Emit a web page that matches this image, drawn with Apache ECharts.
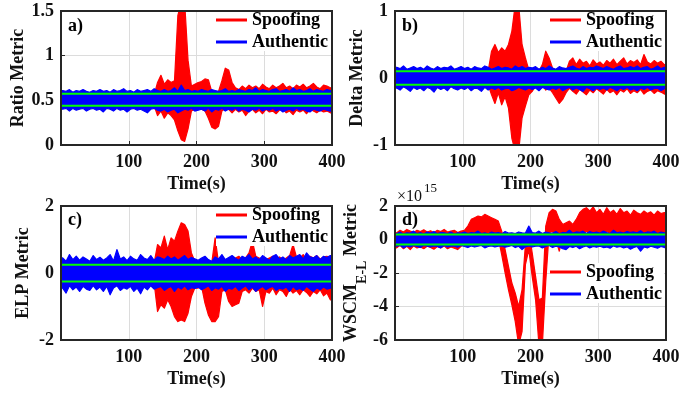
<!DOCTYPE html>
<html><head><meta charset="utf-8">
<script src="https://cdn.jsdelivr.net/npm/echarts@6/dist/echarts.min.js"></script>
<style>html,body{margin:0;padding:0;background:#fff}#c{width:694px;height:395px}</style>
</head><body><div id="c"></div>
<script>
// ---- time windows (s): each sample = one 5 s window with its upper / lower excursion
const timeSec = [
 2.5,7.5,12.5,17.5,22.5,27.5,32.5,37.5,42.5,47.5,
 52.5,57.5,62.5,67.5,72.5,77.5,82.5,87.5,92.5,97.5,
 102.5,107.5,112.5,117.5,122.5,127.5,132.5,137.5,142.5,147.5,
 152.5,157.5,162.5,167.5,172.5,177.5,182.5,187.5,192.5,197.5,
 202.5,207.5,212.5,217.5,222.5,227.5,232.5,237.5,242.5,247.5,
 252.5,257.5,262.5,267.5,272.5,277.5,282.5,287.5,292.5,297.5,
 302.5,307.5,312.5,317.5,322.5,327.5,332.5,337.5,342.5,347.5,
 352.5,357.5,362.5,367.5,372.5,377.5,382.5,387.5,392.5,397.5];
const xTicks = [100,200,300,400];

// ---- a) Ratio metric
const ratioSpoofHi = [
 0.55,0.55,0.55,0.55,0.55,0.55,0.55,0.55,0.55,0.55,
 0.55,0.55,0.55,0.55,0.55,0.55,0.55,0.55,0.55,0.55,
 0.55,0.55,0.55,0.55,0.55,0.55,0.55,0.56,0.70,0.78,
 0.68,0.73,0.70,0.72,1.45,1.60,1.60,0.95,0.66,0.68,
 0.70,0.71,0.74,0.73,0.60,0.58,0.60,0.72,0.86,0.84,
 0.70,0.64,0.62,0.66,0.63,0.67,0.64,0.66,0.63,0.68,
 0.65,0.63,0.67,0.64,0.66,0.69,0.64,0.66,0.63,0.67,
 0.65,0.68,0.64,0.66,0.69,0.65,0.63,0.67,0.66,0.64];
const ratioSpoofLo = [
 0.45,0.45,0.45,0.45,0.45,0.45,0.45,0.45,0.45,0.45,
 0.45,0.45,0.45,0.45,0.45,0.45,0.45,0.45,0.45,0.45,
 0.45,0.45,0.45,0.45,0.45,0.45,0.45,0.44,0.33,0.38,
 0.30,0.36,0.33,0.28,0.16,0.06,0.04,0.18,0.38,0.40,
 0.42,0.40,0.38,0.30,0.20,0.18,0.21,0.38,0.41,0.40,
 0.36,0.40,0.37,0.39,0.33,0.38,0.40,0.36,0.39,0.35,
 0.40,0.37,0.38,0.35,0.39,0.40,0.36,0.38,0.34,0.39,
 0.37,0.39,0.35,0.40,0.38,0.36,0.39,0.37,0.38,0.36];
const ratioAuthHi = [
 0.61,0.60,0.62,0.59,0.61,0.60,0.62,0.60,0.59,0.61,
 0.60,0.62,0.60,0.61,0.59,0.62,0.60,0.61,0.63,0.60,
 0.61,0.59,0.62,0.60,0.61,0.62,0.60,0.63,0.61,0.60,
 0.62,0.60,0.61,0.64,0.60,0.67,0.61,0.62,0.60,0.61,
 0.60,0.62,0.61,0.60,0.62,0.61,0.60,0.61,0.63,0.60,
 0.61,0.60,0.62,0.61,0.60,0.62,0.61,0.64,0.60,0.62,
 0.61,0.60,0.62,0.63,0.60,0.61,0.62,0.60,0.64,0.61,
 0.62,0.60,0.61,0.63,0.60,0.62,0.61,0.60,0.62,0.61];
const ratioAuthLo = [
 0.40,0.41,0.38,0.41,0.39,0.40,0.41,0.38,0.40,0.41,
 0.39,0.40,0.37,0.41,0.40,0.38,0.41,0.39,0.40,0.37,
 0.40,0.41,0.39,0.40,0.38,0.36,0.40,0.41,0.39,0.38,
 0.40,0.37,0.39,0.40,0.36,0.38,0.40,0.39,0.41,0.38,
 0.39,0.40,0.38,0.41,0.37,0.40,0.39,0.41,0.38,0.40,
 0.39,0.41,0.38,0.40,0.39,0.37,0.40,0.39,0.41,0.38,
 0.40,0.39,0.41,0.38,0.40,0.37,0.39,0.40,0.38,0.41,
 0.39,0.40,0.38,0.37,0.40,0.39,0.38,0.40,0.39,0.38];
const ratioThresh = [0.575, 0.44];

// ---- b) Delta metric
const deltaSpoofHi = [
 0.08,0.08,0.08,0.08,0.08,0.08,0.08,0.08,0.08,0.08,
 0.08,0.08,0.08,0.08,0.08,0.08,0.08,0.08,0.08,0.08,
 0.08,0.08,0.08,0.08,0.08,0.08,0.08,0.10,0.40,0.50,
 0.38,0.45,0.40,0.50,0.70,1.10,1.10,0.50,0.30,0.12,
 0.10,0.12,0.10,0.20,0.40,0.30,0.15,0.10,0.08,0.12,
 0.10,0.25,0.30,0.20,0.28,0.22,0.25,0.18,0.27,0.21,
 0.24,0.19,0.26,0.22,0.28,0.20,0.25,0.30,0.21,0.26,
 0.23,0.27,0.20,0.35,0.24,0.21,0.26,0.22,0.25,0.20];
const deltaSpoofLo = [
 -0.08,-0.08,-0.08,-0.08,-0.08,-0.08,-0.08,-0.08,-0.08,-0.08,
 -0.08,-0.08,-0.08,-0.08,-0.08,-0.08,-0.08,-0.08,-0.08,-0.08,
 -0.08,-0.08,-0.08,-0.08,-0.08,-0.08,-0.08,-0.10,-0.25,-0.38,
 -0.22,-0.40,-0.28,-0.45,-0.90,-1.10,-1.10,-0.60,-0.42,-0.25,
 -0.20,-0.12,-0.15,-0.10,-0.18,-0.15,-0.22,-0.30,-0.38,-0.32,
 -0.22,-0.15,-0.20,-0.24,-0.17,-0.21,-0.25,-0.18,-0.22,-0.16,
 -0.20,-0.24,-0.17,-0.22,-0.19,-0.25,-0.18,-0.21,-0.16,-0.23,
 -0.19,-0.22,-0.17,-0.24,-0.20,-0.18,-0.23,-0.19,-0.21,-0.24];
const deltaAuthHi = [
 0.16,0.14,0.18,0.13,0.15,0.17,0.14,0.16,0.13,0.18,
 0.15,0.13,0.17,0.14,0.16,0.15,0.18,0.13,0.15,0.17,
 0.14,0.16,0.13,0.17,0.15,0.14,0.18,0.16,0.13,0.15,
 0.17,0.14,0.16,0.15,0.13,0.18,0.15,0.17,0.14,0.16,
 0.15,0.17,0.13,0.16,0.14,0.18,0.15,0.13,0.17,0.15,
 0.14,0.16,0.18,0.15,0.13,0.17,0.14,0.16,0.15,0.18,
 0.16,0.14,0.17,0.15,0.13,0.16,0.18,0.14,0.15,0.17,
 0.15,0.18,0.14,0.16,0.17,0.13,0.15,0.18,0.14,0.16];
const deltaAuthLo = [
 -0.15,-0.18,-0.13,-0.16,-0.20,-0.14,-0.17,-0.15,-0.19,-0.14,
 -0.16,-0.21,-0.14,-0.17,-0.15,-0.19,-0.13,-0.16,-0.18,-0.15,
 -0.17,-0.14,-0.19,-0.15,-0.16,-0.20,-0.14,-0.18,-0.15,-0.17,
 -0.14,-0.18,-0.16,-0.15,-0.19,-0.17,-0.14,-0.16,-0.18,-0.15,
 -0.17,-0.15,-0.19,-0.14,-0.16,-0.18,-0.15,-0.17,-0.14,-0.19,
 -0.16,-0.14,-0.18,-0.15,-0.17,-0.20,-0.14,-0.16,-0.19,-0.15,
 -0.17,-0.15,-0.18,-0.14,-0.16,-0.19,-0.15,-0.17,-0.14,-0.18,
 -0.16,-0.19,-0.15,-0.17,-0.14,-0.18,-0.16,-0.15,-0.19,-0.16];
const deltaThresh = [0.1, -0.1];

// ---- c) ELP metric
const elpSpoofHi = [
 0.20,0.20,0.20,0.20,0.20,0.20,0.20,0.20,0.20,0.20,
 0.20,0.20,0.20,0.20,0.20,0.20,0.20,0.20,0.20,0.20,
 0.20,0.20,0.20,0.20,0.20,0.20,0.20,0.30,0.85,0.75,
 1.10,0.70,1.05,0.95,1.25,1.50,1.45,1.25,0.60,0.35,
 0.30,0.25,0.30,0.35,0.30,1.05,0.30,0.25,0.30,0.35,
 0.40,0.45,0.50,0.40,0.45,0.60,0.95,0.50,0.45,0.40,
 0.40,0.45,0.50,0.42,0.48,0.40,0.45,0.52,0.85,0.48,
 0.45,0.55,0.40,0.50,0.45,0.52,0.42,0.48,0.50,0.45];
const elpSpoofLo = [
 -0.20,-0.20,-0.20,-0.20,-0.20,-0.20,-0.20,-0.20,-0.20,-0.20,
 -0.20,-0.20,-0.20,-0.20,-0.20,-0.20,-0.20,-0.20,-0.20,-0.20,
 -0.20,-0.20,-0.20,-0.20,-0.20,-0.20,-0.20,-0.30,-1.15,-0.95,
 -1.05,-0.80,-1.00,-1.30,-1.45,-1.40,-1.45,-1.20,-0.70,-0.45,
 -0.45,-0.40,-0.90,-1.25,-1.45,-1.45,-1.30,-0.55,-0.50,-0.85,
 -1.00,-0.95,-0.90,-0.55,-0.50,-0.60,-0.45,-0.55,-0.50,-1.00,
 -0.55,-0.60,-0.45,-0.65,-0.50,-0.55,-0.70,-0.48,-0.60,-0.52,
 -0.65,-0.50,-0.58,-0.70,-0.55,-0.62,-0.50,-0.68,-0.60,-0.80];
const elpAuthHi = [
 0.45,0.35,0.55,0.40,0.50,0.38,0.48,0.42,0.35,0.52,
 0.40,0.47,0.38,0.45,0.55,0.36,0.70,0.42,0.48,0.37,
 0.50,0.42,0.38,0.55,0.45,0.40,0.52,0.38,0.48,0.45,
 0.40,0.50,0.42,0.48,0.38,0.45,0.52,0.40,0.46,0.42,
 0.38,0.45,0.50,0.40,0.35,0.48,0.42,0.55,0.40,0.46,
 0.52,0.44,0.38,0.50,0.45,0.55,0.42,0.48,0.40,0.52,
 0.45,0.38,0.50,0.55,0.42,0.48,0.40,0.52,0.45,0.50,
 0.55,0.42,0.60,0.48,0.45,0.52,0.40,0.50,0.46,0.52];
const elpAuthLo = [
 -0.45,-0.60,-0.38,-0.50,-0.42,-0.55,-0.40,-0.48,-0.52,-0.38,
 -0.50,-0.42,-0.55,-0.40,-0.65,-0.45,-0.38,-0.52,-0.44,-0.48,
 -0.40,-0.55,-0.45,-0.62,-0.42,-0.50,-0.38,-0.48,-0.44,-0.40,
 -0.52,-0.45,-0.40,-0.55,-0.42,-0.48,-0.38,-0.50,-0.44,-0.46,
 -0.42,-0.50,-0.45,-0.38,-0.52,-0.44,-0.48,-0.40,-0.55,-0.45,
 -0.48,-0.40,-0.52,-0.45,-0.38,-0.50,-0.42,-0.55,-0.46,-0.40,
 -0.50,-0.44,-0.40,-0.52,-0.45,-0.48,-0.42,-0.55,-0.40,-0.50,
 -0.46,-0.52,-0.40,-0.48,-0.55,-0.44,-0.50,-0.42,-0.48,-0.45];
const elpThresh = [0.25, -0.25];

// ---- d) WSCM E-L metric (units of 1e15)
const wscmSpoofHi = [
 0.40,0.55,0.45,0.60,0.50,0.42,0.55,0.48,0.58,0.45,
 0.52,0.40,0.55,0.48,0.60,0.45,0.50,0.55,0.42,0.50,
 0.55,0.80,1.20,1.30,1.40,1.35,1.50,1.40,1.30,1.20,
 1.10,0.50,-0.60,-1.60,-2.60,-3.20,-4.00,-3.00,-0.30,0.50,
 -0.80,-2.20,-3.60,-3.50,0.80,1.60,1.80,1.70,1.20,0.90,
 1.00,1.10,0.90,1.20,1.60,1.80,1.90,1.70,1.95,1.60,
 1.80,1.50,1.90,1.60,1.75,1.50,1.85,1.60,1.70,1.45,
 1.75,1.60,1.50,1.70,1.55,1.65,1.45,1.70,1.55,1.60];
const wscmSpoofLo = [
 -0.50,-0.35,-0.55,-0.40,-0.60,-0.38,-0.50,-0.45,-0.55,-0.40,
 -0.48,-0.58,-0.42,-0.50,-0.38,-0.55,-0.45,-0.52,-0.60,-0.40,
 -0.30,0.30,0.35,0.30,0.40,0.35,0.30,0.40,0.35,0.30,
 0.10,-0.90,-2.00,-3.00,-3.90,-4.90,-6.30,-5.50,-1.50,-0.60,
 -2.20,-3.60,-6.30,-6.30,-2.50,0.40,0.50,0.00,-0.70,0.20,
 0.30,0.20,0.40,0.30,0.40,0.30,0.50,0.30,0.40,0.30,
 0.40,0.30,0.50,0.35,0.40,0.30,0.45,0.35,0.40,0.30,
 0.45,0.35,0.40,0.30,0.50,0.35,0.40,0.30,0.45,0.35];
const wscmAuthHi = [
 0.35,0.45,0.32,0.40,0.38,0.50,0.35,0.42,0.33,0.45,
 0.38,0.48,0.35,0.42,0.40,0.36,0.45,0.33,0.40,0.38,
 0.45,0.35,0.42,0.38,0.50,0.36,0.40,0.34,0.45,0.38,
 0.42,0.35,0.48,0.38,0.40,0.36,0.45,0.40,0.38,0.80,
 0.42,0.38,0.50,0.36,0.45,0.40,0.38,0.48,0.35,0.42,
 0.40,0.55,0.38,0.45,0.42,0.50,0.36,0.48,0.40,0.45,
 0.38,0.50,0.42,0.36,0.55,0.40,0.45,0.38,0.48,0.42,
 0.45,0.40,0.52,0.38,0.45,0.42,0.50,0.36,0.44,0.40];
const wscmAuthLo = [
 -0.40,-0.35,-0.50,-0.38,-0.45,-0.36,-0.42,-0.48,-0.35,-0.40,
 -0.45,-0.38,-0.42,-0.50,-0.36,-0.44,-0.40,-0.38,-0.46,-0.35,
 -0.42,-0.48,-0.38,-0.45,-0.40,-0.36,-0.50,-0.42,-0.38,-0.45,
 -0.40,-0.38,-0.46,-0.42,-0.36,-0.48,-0.40,-0.60,-0.44,-0.38,
 -0.45,-0.40,-0.38,-0.50,-0.42,-0.36,-0.48,-0.40,-0.45,-0.55,
 -0.60,-0.42,-0.48,-0.40,-0.55,-0.45,-0.38,-0.50,-0.42,-0.46,
 -0.40,-0.48,-0.45,-0.52,-0.38,-0.46,-0.42,-0.50,-0.44,-0.58,
 -0.48,-0.42,-0.70,-0.45,-0.50,-0.40,-0.46,-0.52,-0.42,-0.48];
const wscmThresh = [0.3, -0.3];

// ---------------------------------------------------------------
const FONT = '"Liberation Serif", "Times New Roman", serif';
const TXT = '#111';
const panels = [
  {left:61,  top:11,  yMin:0,  yMax:1.5, yInt:0.5, yName:'Ratio Metric', nameGap:29, tag:'a)',
   sHi:ratioSpoofHi, sLo:ratioSpoofLo, aHi:ratioAuthHi, aLo:ratioAuthLo, thr:ratioThresh, legTop:11},
  {left:395, top:11,  yMin:-1, yMax:1,   yInt:1,   yName:'Delta Metric', nameGap:29, tag:'b)',
   sHi:deltaSpoofHi, sLo:deltaSpoofLo, aHi:deltaAuthHi, aLo:deltaAuthLo, thr:deltaThresh, legTop:11},
  {left:61,  top:206, yMin:-2, yMax:2,   yInt:2,   yName:'ELP Metric', nameGap:29, tag:'c)',
   sHi:elpSpoofHi, sLo:elpSpoofLo, aHi:elpAuthHi, aLo:elpAuthLo, thr:elpThresh, legTop:206},
  {left:395, top:206, yMin:-6, yMax:2,   yInt:2,   yName:'{m|WSCM}{s|E-L}{m| Metric}', nameGap:22, tag:'d)',
   sHi:wscmSpoofHi, sLo:wscmSpoofLo, aHi:wscmAuthHi, aLo:wscmAuthLo, thr:wscmThresh, legTop:263}
];
const W = 271, H = 134;
const xMin = 0, xMax = 400;

// band of a noisy signal: polygon through the upper excursions, back through the lower ones
function bandSeries(name, color, i, hi, lo) {
  return {
    name, type: 'custom', xAxisIndex: i, yAxisIndex: i, clip: true, silent: true, z: 2,
    itemStyle: {color},
    encode: {x: 0, y: [1, 2]},
    data: [[timeSec[0], hi[0], lo[0]]],
    renderItem: function (params, api) {
      const n = timeSec.length;
      const up = [api.coord([xMin, hi[0]])], dn = [api.coord([xMin, lo[0]])];
      for (let k = 0; k < n; k++) { up.push(api.coord([timeSec[k], hi[k]])); dn.push(api.coord([timeSec[k], lo[k]])); }
      up.push(api.coord([xMax, hi[n - 1]])); dn.push(api.coord([xMax, lo[n - 1]]));
      return {type: 'polygon', shape: {points: up.concat(dn.reverse())},
        style: {fill: color, stroke: color, lineWidth: 1.2, lineJoin: 'round'}};
    }
  };
}

const grid = [], xAxis = [], yAxis = [], series = [], legend = [], graphic = [];
const lblStyle = {fontFamily: FONT, fontWeight: 'bold', fontSize: 18, color: TXT};
panels.forEach((p, i) => {
  grid.push({left: p.left, top: p.top, width: W, height: H, show: true,
    backgroundColor: 'transparent', borderColor: '#262626', borderWidth: 2, z: 10});
  xAxis.push({type: 'value', gridIndex: i, min: xMin, max: xMax, interval: xTicks[1] - xTicks[0],
    axisLine: {show: false},
    axisTick: {show: true, inside: true, length: 4, lineStyle: {color: '#262626'}},
    axisLabel: Object.assign({margin: 8, formatter: v => (xTicks.indexOf(v) >= 0 ? String(v) : '')}, lblStyle),
    splitLine: {show: true, lineStyle: {color: '#dcdcdc', width: 1}},
    name: 'Time(s)', nameLocation: 'middle', nameGap: 30, nameTextStyle: lblStyle});
  const nameStyle = i === 3 ? {
      fontFamily: FONT, fontWeight: 'bold', color: TXT,
      rich: {
        m: {fontFamily: FONT, fontWeight: 'bold', fontSize: 18, color: TXT, lineHeight: 36},
        s: {fontFamily: FONT, fontWeight: 'bold', fontSize: 14, color: TXT, verticalAlign: 'bottom'}
      }} : lblStyle;
  yAxis.push({type: 'value', gridIndex: i, min: p.yMin, max: p.yMax, interval: p.yInt,
    axisLine: {show: false},
    axisTick: {show: true, inside: true, length: 4, lineStyle: {color: '#262626'}},
    axisLabel: Object.assign({margin: 7}, lblStyle),
    splitLine: {show: true, lineStyle: {color: '#dcdcdc', width: 1}},
    name: p.yName, nameLocation: 'middle', nameGap: p.nameGap, nameTextStyle: nameStyle});
  series.push(bandSeries('Spoofing', '#ff0000', i, p.sHi, p.sLo));
  series.push(bandSeries('Authentic', '#0000ff', i, p.aHi, p.aLo));
  p.thr.forEach(v => {
    series.push({name: 'Threshold', type: 'line', xAxisIndex: i, yAxisIndex: i,
      data: [[xMin, v], [xMax, v]], symbol: 'none', silent: true, z: 3,
      lineStyle: {color: '#00ff00', width: 2}, itemStyle: {color: '#00ff00'}});
  });
  legend.push({data: ['Spoofing', 'Authentic'], orient: 'vertical', left: p.left + 155, top: p.legTop,
    icon: 'rect', itemWidth: 31, itemHeight: 3, itemGap: 4, backgroundColor: '#ffffff',
    padding: [0, 2, 0, 0], selectedMode: false,
    textStyle: {fontFamily: FONT, fontWeight: 'bold', fontSize: 18, color: '#000', lineHeight: 18}});
  graphic.push({type: 'text', left: p.left + 7, top: p.top + (i < 2 ? 6 : 5), z: 20,
    style: {text: p.tag, font: 'bold 18px ' + FONT, fill: '#000'}});
});
graphic.push({type: 'text', left: 397, top: 189, z: 20,
  style: {text: '\u00d710', font: '16px ' + FONT, fill: TXT}});
graphic.push({type: 'text', left: 424, top: 182, z: 20,
  style: {text: '15', font: '13px ' + FONT, fill: TXT}});

const chart = echarts.init(document.getElementById('c'), null, {renderer: 'canvas'});
chart.setOption({animation: false, backgroundColor: '#fff', grid, xAxis, yAxis, series, legend, graphic});
</script>
</body></html>
